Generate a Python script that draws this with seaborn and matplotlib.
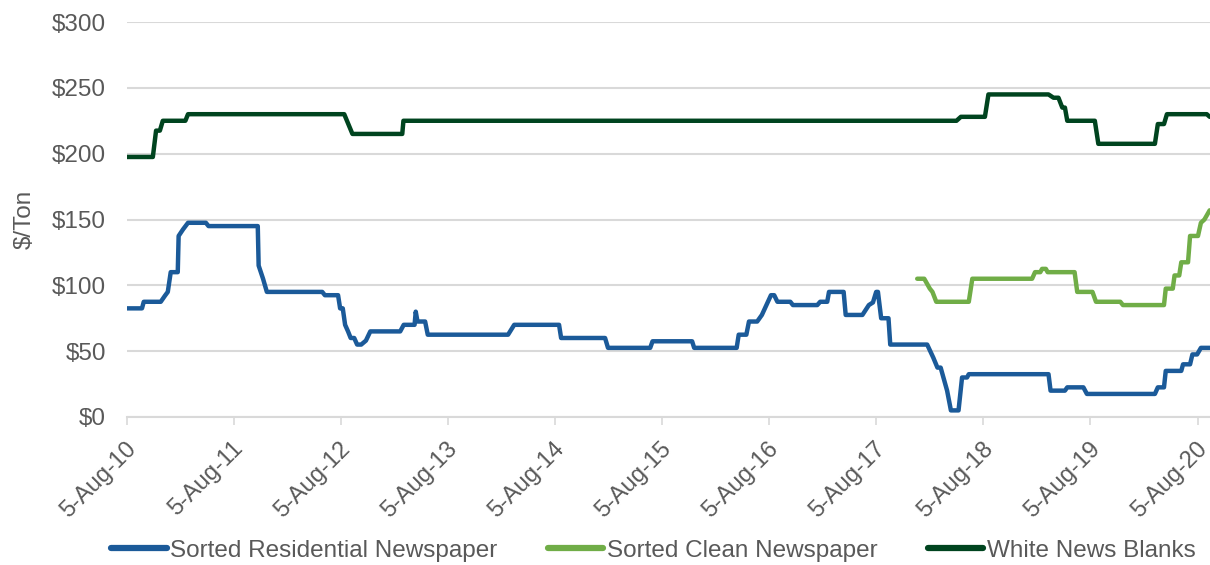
import pandas as pd
import matplotlib
matplotlib.use("Agg")
import matplotlib.pyplot as plt
import matplotlib.dates as mdates
import matplotlib.transforms as mtransforms
from matplotlib.lines import Line2D
import seaborn as sns

# Series (date of each change point, $/ton)
residential_dates = [
    "2010-08-05", "2010-09-25", "2010-10-01", "2010-11-28", "2010-12-12", "2010-12-22",
    "2011-01-01", "2011-01-25", "2011-01-28", "2011-02-12", "2011-03-01", "2011-05-01",
    "2011-05-10", "2011-10-25", "2011-10-28", "2011-11-12", "2011-11-25", "2012-06-01",
    "2012-06-10", "2012-07-25", "2012-08-01", "2012-08-10", "2012-08-18", "2012-08-28",
    "2012-09-06", "2012-09-18", "2012-09-28", "2012-10-12", "2012-10-28", "2012-11-12",
    "2013-02-22", "2013-03-06", "2013-04-12", "2013-04-16", "2013-04-22", "2013-05-18",
    "2013-05-27", "2014-02-25", "2014-03-18", "2014-08-18", "2014-08-25", "2015-01-22",
    "2015-02-01", "2015-06-25", "2015-07-03", "2015-11-15", "2015-11-22", "2016-04-15",
    "2016-04-22", "2016-05-18", "2016-05-27", "2016-06-24", "2016-07-10", "2016-08-10",
    "2016-08-21", "2016-09-01", "2016-10-15", "2016-10-24", "2017-01-15", "2017-01-25",
    "2017-02-18", "2017-02-24", "2017-04-15", "2017-04-22", "2017-06-18", "2017-07-10",
    "2017-07-24", "2017-08-04", "2017-08-10", "2017-08-21", "2017-09-15", "2017-09-21",
    "2018-01-25", "2018-02-15", "2018-03-01", "2018-03-12", "2018-04-03", "2018-04-16",
    "2018-05-12", "2018-05-24", "2018-06-10", "2018-06-16", "2019-03-15", "2019-03-22",
    "2019-05-10", "2019-05-18", "2019-07-12", "2019-07-24", "2020-03-12", "2020-03-22",
    "2020-04-12", "2020-04-18", "2020-06-10", "2020-06-16", "2020-07-10", "2020-07-18",
    "2020-08-03", "2020-08-16", "2020-09-15",
]
residential_values = [
    82.5, 82.5, 87.5, 87.5, 92, 95,
    110, 110, 137.5, 142.5, 147.5, 147.5,
    145, 145, 115, 105, 95, 95,
    92.5, 92.5, 82.5, 82.5, 70, 65,
    60, 60, 55, 55, 58, 65,
    65, 70, 70, 80, 72.5, 72.5,
    62.5, 62.5, 70, 70, 60, 60,
    52.5, 52.5, 57.5, 57.5, 52.5, 52.5,
    62.5, 62.5, 72.5, 72.5, 77.5, 92.5,
    92.5, 87.5, 87.5, 85, 85, 87.5,
    87.5, 95, 95, 77.5, 77.5, 85,
    87, 95, 95, 75, 75, 55,
    55, 45, 37.5, 37.5, 20, 5,
    5, 30, 30, 32.5, 32.5, 20,
    20, 22.5, 22.5, 17.5, 17.5, 22.5,
    22.5, 35, 35, 40, 40, 47.5,
    47.5, 52.5, 52.5,
]

clean_dates = [
    "2017-12-22", "2018-01-15", "2018-02-03", "2018-02-12", "2018-02-25", "2018-06-16",
    "2018-06-28", "2019-01-18", "2019-01-28", "2019-02-15", "2019-02-21", "2019-03-06",
    "2019-03-12", "2019-06-12", "2019-06-21", "2019-08-12", "2019-08-24", "2019-11-15",
    "2019-11-24", "2020-04-12", "2020-04-18", "2020-05-12", "2020-05-18", "2020-06-03",
    "2020-06-10", "2020-07-03", "2020-07-10", "2020-08-06", "2020-08-16", "2020-08-28",
    "2020-09-15",
]
clean_values = [
    105, 105, 97.5, 95, 87.5, 87.5,
    105, 105, 110, 110, 112.5, 112.5,
    110, 110, 95, 95, 87.5, 87.5,
    85, 85, 97.5, 97.5, 107.5, 107.5,
    117.5, 117.5, 137.5, 137.5, 147.5, 150,
    157,
]

blanks_dates = [
    "2010-08-05", "2010-11-01", "2010-11-12", "2010-11-25", "2010-12-05", "2011-02-20",
    "2011-03-01", "2012-08-15", "2012-09-12", "2013-03-01", "2013-03-05", "2018-05-05",
    "2018-05-20", "2018-08-10", "2018-08-22", "2019-03-15", "2019-04-01", "2019-04-18",
    "2019-05-01", "2019-05-10", "2019-05-18", "2019-08-20", "2019-09-01", "2020-03-12",
    "2020-03-22", "2020-04-12", "2020-04-22", "2020-09-05", "2020-09-15",
]
blanks_values = [
    197.5, 197.5, 217.5, 217.5, 225, 225,
    230, 230, 215, 215, 225, 225,
    228, 228, 245, 245, 242.5, 242.5,
    235, 235, 225, 225, 207.5, 207.5,
    222.5, 222.5, 230, 230, 228,
]

series_names = ["Sorted Residential Newspaper", "Sorted Clean Newspaper", "White News Blanks"]
series_colors = ["#1B5A99", "#70AD47", "#00441F"]

frames = []
for name, dates, values in zip(series_names,
                               [residential_dates, clean_dates, blanks_dates],
                               [residential_values, clean_values, blanks_values]):
    frames.append(pd.DataFrame({"date": pd.to_datetime(dates), "price": values, "series": name}))
df = pd.concat(frames, ignore_index=True)

sns.set_theme(style="white")
plt.rcParams["font.family"] = ["Liberation Sans", "DejaVu Sans"]
text_color = "#595959"
font_size = 17.5

fig = plt.figure(figsize=(12.1, 5.65), dpi=100)
ax = fig.add_axes([0.105, 0.262, 0.895, 0.699])

sns.lineplot(data=df, x="date", y="price", hue="series", hue_order=series_names,
             palette=series_colors, estimator=None, sort=False, linewidth=3.2,
             legend=False, ax=ax)

ax.set_ylim(0, 300)
ax.set_yticks(range(0, 301, 50))
ax.yaxis.set_major_formatter(matplotlib.ticker.FuncFormatter(lambda v, _: f"${v:.0f}"))
ax.set_xlim(pd.Timestamp("2010-08-05"), pd.Timestamp("2020-09-16"))
ax.xaxis.set_major_locator(mdates.YearLocator(base=1, month=8, day=5))
ax.xaxis.set_major_formatter(matplotlib.ticker.FuncFormatter(
    lambda v, _: (lambda d: f"{d.day}-{d.strftime('%b-%y')}")(mdates.num2date(v))))

ax.grid(axis="y", color="#D9D9D9", linewidth=1.5)
ax.grid(axis="x", visible=False)
ax.set_axisbelow(True)
for side in ["left", "right", "top"]:
    ax.spines[side].set_visible(False)
ax.spines["bottom"].set_color("#D9D9D9")
ax.spines["bottom"].set_linewidth(1.5)

ax.tick_params(axis="y", length=0, labelsize=font_size, labelcolor=text_color, pad=15)
ax.tick_params(axis="x", bottom=True, length=6, width=1.2, color="#D9D9D9",
               labelsize=17, labelcolor=text_color, pad=13)
# nudge rotated date labels a little right so their ends sit just past the ticks
shift = mtransforms.ScaledTranslation(0.06, -0.02, fig.dpi_scale_trans)
for lbl in ax.get_xticklabels():
    lbl.set_rotation(45)
    lbl.set_ha("right")
    lbl.set_va("center")
    lbl.set_rotation_mode("anchor")
    lbl.set_transform(lbl.get_transform() + shift)

ax.set_xlabel("")
ax.set_ylabel("$/Ton", fontsize=font_size, color=text_color, labelpad=12)

handles = [Line2D([0], [0], color=c, linewidth=4.5, solid_capstyle="round") for c in series_colors]
fig.legend(handles, series_names, loc="center", bbox_to_anchor=(0.54, 0.025),
           ncol=3, frameon=False, fontsize=font_size, labelcolor=text_color,
           handlelength=2.3, handletextpad=0.15, columnspacing=2.05)

plt.savefig("out.png", dpi=100)
